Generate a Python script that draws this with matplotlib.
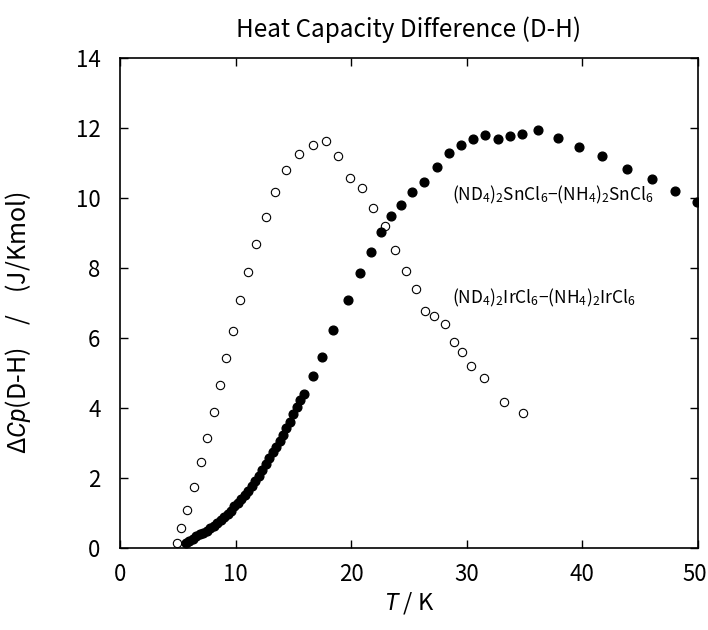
import matplotlib
matplotlib.use("Agg")
import matplotlib.pyplot as plt
from matplotlib.transforms import ScaledTranslation

# Japanese gothic face for the whole figure, roman fallback
FONT = ['Noto Sans CJK JP', 'DejaVu Sans']
plt.rcParams['font.family'] = FONT
plt.rcParams['mathtext.fontset'] = 'custom'
plt.rcParams['mathtext.rm'] = 'Noto Sans CJK JP'
plt.rcParams['mathtext.it'] = 'Roboto:italic'

# (ND4)2SnCl6 - (NH4)2SnCl6, filled circles
sn_T = [5.7, 6.0, 6.3, 6.6, 6.9, 7.2, 7.5, 7.8, 8.1, 8.4, 8.7, 9.0, 9.3, 9.6,
        9.9, 10.2, 10.5, 10.8, 11.1, 11.4, 11.7, 12.0, 12.3, 12.6, 12.9, 13.2,
        13.5, 13.8, 14.1, 14.4, 14.7, 15.0, 15.3, 15.6, 15.95,
        16.7, 17.5, 18.45, 19.7, 20.8, 21.7, 22.6, 23.4, 24.3, 25.3, 26.3,
        27.4, 28.5, 29.5, 30.5, 31.6, 32.7, 33.7, 34.8, 36.2, 37.9, 39.7,
        41.7, 43.9, 46.0, 48.0, 49.9]
sn_dCp = [0.14, 0.20, 0.27, 0.33, 0.39, 0.44, 0.49, 0.56, 0.63, 0.71, 0.80,
          0.89, 0.97, 1.07, 1.19, 1.28, 1.40, 1.51, 1.64, 1.77, 1.92, 2.05,
          2.22, 2.40, 2.58, 2.75, 2.90, 3.07, 3.23, 3.42, 3.60, 3.82, 4.02,
          4.22, 4.40,
          4.92, 5.46, 6.22, 7.10, 7.85, 8.47, 9.03, 9.49, 9.80, 10.18, 10.46,
          10.90, 11.28, 11.52, 11.70, 11.80, 11.70, 11.77, 11.84, 11.95,
          11.72, 11.46, 11.19, 10.83, 10.55, 10.21, 9.90]

# (ND4)2IrCl6 - (NH4)2IrCl6, open circles
ir_T = [4.96, 5.28, 5.83, 6.43, 6.98, 7.55, 8.1, 8.65, 9.2, 9.8, 10.4, 11.1,
        11.8, 12.6, 13.4, 14.4, 15.5, 16.7, 17.8, 18.9, 19.9, 20.9, 21.9,
        22.9, 23.8, 24.7, 25.6, 26.4, 27.2, 28.1, 28.9, 29.6, 30.4, 31.5,
        33.2, 34.9]
ir_dCp = [0.14, 0.56, 1.09, 1.74, 2.45, 3.15, 3.88, 4.65, 5.43, 6.21, 7.08,
          7.90, 8.68, 9.47, 10.18, 10.79, 11.25, 11.52, 11.64, 11.20, 10.57,
          10.28, 9.72, 9.19, 8.51, 7.91, 7.40, 6.77, 6.62, 6.40, 5.89, 5.60,
          5.20, 4.85, 4.18, 3.86]

fig = plt.figure(figsize=(7.08, 6.3), dpi=100)
ax = fig.add_axes([120 / 708, 82 / 630, 578 / 708, 490 / 630])

ax.plot(ir_T, ir_dCp, 'o', ms=6, mfc='white', mec='black', mew=0.8)
ax.plot(sn_T, sn_dCp, 'o', ms=6.3, mfc='black', mec='black')

ax.set_xlim(0, 50)
ax.set_ylim(0, 14)
ax.set_xticks(range(0, 51, 10))
ax.set_yticks(range(0, 15, 2))
ax.tick_params(direction='in', length=6, width=1, top=True, right=True,
               labelsize=16)
ax.tick_params(axis='x', pad=11)
ax.tick_params(axis='y', pad=14)
for s in ax.spines.values():
    s.set_linewidth(1.2)

# keep the "50" label inside the canvas
last = ax.get_xticklabels()[-1]
last.set_ha('right')
last.set_transform(last.get_transform() +
                   ScaledTranslation(9 / 100, 0, fig.dpi_scale_trans))

ax.text(28.7, 10.09,
        r'(ND$_4$)$_2$SnCl$_6$$-$(NH$_4$)$_2$SnCl$_6$',
        fontsize=12.5, va='center', ha='left')
ax.text(28.7, 7.14,
        r'(ND$_4$)$_2$IrCl$_6$$-$(NH$_4$)$_2$IrCl$_6$',
        fontsize=12.5, va='center', ha='left')

ax.set_title('Heat Capacity Difference (D-H)', fontsize=17.5, pad=15)
ax.set_xlabel(r'$T$ / K', fontsize=17)
ax.set_ylabel(r'$\Delta$$Cp$(D-H)    /    (J/Kmol)', fontsize=18)
ax.xaxis.set_label_coords(0.5, -0.085)
ax.yaxis.set_label_coords(-0.15, 0.46)

fig.savefig('out.png', dpi=100)
